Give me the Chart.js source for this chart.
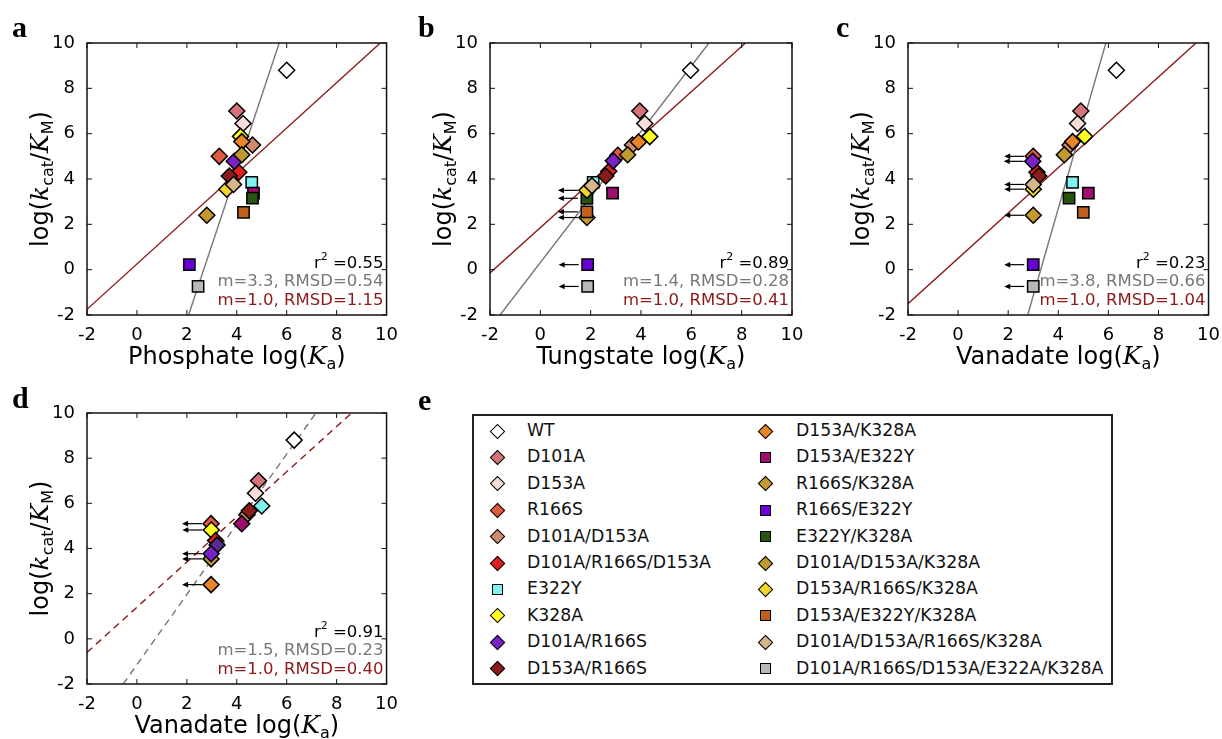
<!DOCTYPE html>
<html>
<head>
<meta charset="utf-8">
<script src="https://cdn.jsdelivr.net/npm/chart.js@4.4.0/dist/chart.umd.min.js"></script>
<style>
  body { margin: 0; background: #fff; width: 1222px; height: 739px; overflow: hidden; position: relative; font-family: "DejaVu Sans", sans-serif; }
  canvas { position: absolute; }
  .letter { position: absolute; font: bold 30px "Liberation Serif", serif; line-height: 30px; }
  #legend { position: absolute; left: 472px; top: 414px; width: 637px; height: 267px; border: 2px solid #222; }
  .mk { position: absolute; width: 11px; height: 11px; box-sizing: border-box; border: 1.5px solid #000; }
  .mk.D { transform: rotate(45deg); }
  .txt { position: absolute; font-size: 17.3px; line-height: 20px; white-space: nowrap; color: #111; }
</style>
</head>
<body>
<canvas id="pa" width="400" height="375" style="left:0;top:0"></canvas>
<canvas id="pb" width="410" height="375" style="left:400px;top:0"></canvas>
<canvas id="pc" width="412" height="375" style="left:810px;top:0"></canvas>
<canvas id="pd" width="400" height="369" style="left:0;top:370px"></canvas>
<div class="letter" style="left:12px;top:12px">a</div>
<div class="letter" style="left:418px;top:12px">b</div>
<div class="letter" style="left:836px;top:12px">c</div>
<div class="letter" style="left:12px;top:383px">d</div>
<div class="letter" style="left:418px;top:385px">e</div>
<div id="legend"></div>
<div id="legend-items"></div>

<script>
// ===== DATA =====
const mutants = ['WT', 'D101A', 'D153A', 'R166S', 'D101A/D153A', 'D101A/R166S/D153A', 'E322Y', 'K328A',
  'D101A/R166S', 'D153A/R166S', 'D153A/K328A', 'D153A/E322Y', 'R166S/K328A', 'R166S/E322Y', 'E322Y/K328A',
  'D101A/D153A/K328A', 'D153A/R166S/K328A', 'D153A/E322Y/K328A', 'D101A/D153A/R166S/K328A',
  'D101A/R166S/D153A/E322A/K328A'];

// log(kcat/KM), same for panels a-c
const logKcatKm = [8.8, 7.0, 6.45, 5.0, 5.5, 4.3, 3.85, 5.88, 4.78, 4.13, 5.65, 3.38, 2.4, 0.22, 3.16,
  5.07, 3.55, 2.53, 3.76, -0.74];

// log(Ka) for each anion
const phosphateKa = [6.0, 4.0, 4.25, 3.3, 4.63, 4.08, 4.6, 4.15, 3.9, 3.7, 4.2, 4.67, 2.8, 2.1, 4.63,
  4.2, 3.6, 4.27, 3.87, 2.45];
const tungstateKa = [5.97, 3.95, 4.15, 3.08, 3.66, 2.72, 2.1, 4.35, 2.9, 2.6, 3.9, 2.87, 1.85, 1.88, 1.85,
  3.47, 1.85, 1.85, 2.05, 1.88];
const vanadateKa = [6.32, 4.9, 4.77, 3.0, 4.47, 3.15, 4.57, 5.05, 2.98, 3.22, 4.57, 5.2, 3.0, 3.0, 4.43,
  4.24, 3.0, 5.0, 3.0, 3.0];
// slight y offsets where panels differ
const tungstateY = [8.8, 7.0, 6.45, 5.05, 5.5, 4.34, 3.85, 5.87, 4.8, 4.13, 5.63, 3.38, 2.3, 0.22, 3.15,
  5.07, 3.5, 2.55, 3.7, -0.74];

// upper-bound markers (arrows)
const tungstateLimit = [0,0,0,0,0,0,0,0,0,0,0,0,1,1,1,0,1,1,0,1];
const vanadateLimit  = [0,0,0,1,0,0,0,0,1,0,0,0,1,1,0,0,1,0,1,1];

// panel d: vanadate subset
const dKa   = [6.3, 4.87, 4.75, 5.0, 4.41, 4.5, 4.2, 2.97, 2.98, 3.15, 3.21, 2.97, 2.97, 2.97];
const dKcat = [8.8, 7.0, 6.45, 5.88, 5.5, 5.67, 5.1, 5.1, 4.82, 4.35, 4.15, 3.54, 3.77, 2.4];
const dLimit = [0,0,0,0,0,0,0,1,1,0,0,1,1,1];

// fit lines [x1, y1, x2, y2]
const fitFree = { a: [2.07, -2, 5.7, 10], b: [-1.6, -2, 6.7, 10], c: [2.78, -2, 5.9, 10], d: [-0.55, -2, 7.17, 10] };
const fitUnit = { a: [-2, -1.75, 9.75, 10], b: [-2, -0.15, 8.15, 10], c: [-2, -1.5, 9.5, 10], d: [-2, -0.6, 8.6, 10] };
const stats = {
  a: ['0.55', 'm=3.3, RMSD=0.54', 'm=1.0, RMSD=1.15'],
  b: ['0.89', 'm=1.4, RMSD=0.28', 'm=1.0, RMSD=0.41'],
  c: ['0.23', 'm=3.8, RMSD=0.66', 'm=1.0, RMSD=1.04'],
  d: ['0.91', 'm=1.5, RMSD=0.23', 'm=1.0, RMSD=0.40'],
};

// ===== STYLE =====
const colors = ['#ffffff', '#d5737a', '#f7ddd8', '#e05a40', '#d08a6e', '#de2020', '#80f2f2', '#ffff22',
  '#7a22c8', '#8b1c1c', '#e8842a', '#9e0e6e', '#c49a30', '#6a00d4', '#275410', '#bf9a2e', '#f2d62c',
  '#c0601e', '#d6b68a', '#b8b8b8'];
const shapes = mutants.map(m => m.includes('E322') ? 'S' : 'D');
const dColors = ['#ffffff', '#d5737a', '#f7ddd8', '#7ff0f0', '#d08a6e', '#8b1c1c', '#9e0e6e', '#e05a40',
  '#ffff22', '#de2020', '#5a2a95', '#c49a30', '#7a22c8', '#e8842a'];
const GRAY = '#777777', RED = '#8b1a1a';
const SANS = '"DejaVu Sans"', SERIF = '"DejaVu Serif"';
const STAT = '16.5px ' + SANS;

function rich(ctx, parts, x, y, align) {
  let w = 0;
  parts.forEach(p => { ctx.font = p[1]; w += ctx.measureText(p[0]).width; });
  let cx = align === 'right' ? x - w : align === 'center' ? x - w / 2 : x;
  ctx.textAlign = 'left';
  ctx.textBaseline = 'alphabetic';
  parts.forEach(p => {
    ctx.font = p[1];
    ctx.fillText(p[0], cx, y + (p[2] || 0));
    cx += ctx.measureText(p[0]).width;
  });
}

function makePanel(id, cfg) {
  const pts = cfg.x.map((x, i) => ({ x, y: cfg.y[i] }));
  const line = (f, color) => ({
    data: [{ x: f[0], y: f[1] }, { x: f[2], y: f[3] }],
    showLine: true, pointRadius: 0, borderColor: color, borderWidth: 1.4,
    borderDash: cfg.dashed ? [7, 5] : [], order: 2,
  });

  const deco = {
    id: 'deco',
    afterDraw(chart) {
      const { ctx, chartArea: a, scales: { x, y } } = chart;
      ctx.save();
      // arrows for upper bounds
      ctx.strokeStyle = '#000'; ctx.fillStyle = '#000'; ctx.lineWidth = 1.2;
      cfg.limit.forEach((l, i) => {
        if (!l) return;
        const px = x.getPixelForValue(cfg.x[i]), py = y.getPixelForValue(cfg.y[i]);
        ctx.beginPath(); ctx.moveTo(px - 9, py); ctx.lineTo(px - 25, py); ctx.stroke();
        ctx.beginPath(); ctx.moveTo(px - 29, py); ctx.lineTo(px - 23, py - 2.8); ctx.lineTo(px - 23, py + 2.8); ctx.closePath(); ctx.fill();
      });
      // frame + inward ticks
      ctx.strokeStyle = '#111'; ctx.lineWidth = 1.5;
      ctx.strokeRect(a.left, a.top, a.right - a.left, a.bottom - a.top);
      ctx.lineWidth = 1;
      x.ticks.forEach(t => {
        const px = x.getPixelForValue(t.value);
        ctx.beginPath();
        ctx.moveTo(px, a.bottom); ctx.lineTo(px, a.bottom - 5);
        ctx.moveTo(px, a.top); ctx.lineTo(px, a.top + 5);
        ctx.stroke();
      });
      y.ticks.forEach(t => {
        const py = y.getPixelForValue(t.value);
        ctx.beginPath();
        ctx.moveTo(a.left, py); ctx.lineTo(a.left + 5, py);
        ctx.moveTo(a.right, py); ctx.lineTo(a.right - 5, py);
        ctx.stroke();
      });
      // axis labels
      ctx.fillStyle = '#000';
      rich(ctx, [[cfg.name + ' log(', '24px ' + SANS], ['K', 'italic 25px ' + SERIF], ['a', '16px ' + SANS, 5],
        [')', '24px ' + SANS]], (a.left + a.right) / 2, a.bottom + 49, 'center');
      ctx.save();
      ctx.translate(a.left - 39, (a.top + a.bottom) / 2);
      ctx.rotate(-Math.PI / 2);
      rich(ctx, [['log(', '24px ' + SANS], ['k', 'italic 25px ' + SERIF], ['cat', '16px ' + SANS, 5],
        ['/', '24px ' + SANS], ['K', 'italic 25px ' + SERIF], ['M', '16px ' + SANS, 5], [')', '24px ' + SANS]], 0, 0, 'center');
      ctx.restore();
      // statistics
      const s = cfg.stats;
      rich(ctx, [['r', STAT], ['2', '11px ' + SANS, -8], [' =' + s[0], STAT]], a.right - 3, a.bottom - 47, 'right');
      ctx.fillStyle = GRAY;
      rich(ctx, [[s[1], STAT]], a.right - 3, a.bottom - 29, 'right');
      ctx.fillStyle = RED;
      rich(ctx, [[s[2], STAT]], a.right - 3, a.bottom - 10, 'right');
      ctx.restore();
    }
  };

  const tickFont = { size: 18, family: 'DejaVu Sans' };
  return new Chart(document.getElementById(id), {
    type: 'scatter',
    data: {
      datasets: [
        {
          data: pts,
          pointStyle: cfg.shapes.map(s => s === 'S' ? 'rect' : 'rectRot'),
          pointRadius: 8,
          backgroundColor: cfg.colors,
          borderColor: '#000',
          borderWidth: 1.5,
          order: 1,
        },
        line(cfg.free, GRAY),
        line(cfg.unit, RED),
      ]
    },
    options: {
      responsive: false,
      animation: false,
      layout: { padding: { top: cfg.padTop, right: cfg.padRight, left: 0, bottom: 0 } },
      plugins: { legend: { display: false }, tooltip: { enabled: false } },
      scales: {
        x: {
          type: 'linear', min: -2, max: 10,
          ticks: { stepSize: 2, font: tickFont, color: '#000', padding: 2, maxRotation: 0 },
          grid: { display: false }, border: { display: false },
          afterFit: sc => { sc.height = cfg.xh; },
        },
        y: {
          type: 'linear', min: -2, max: 10,
          ticks: { stepSize: 2, font: tickFont, color: '#000', padding: 4 },
          grid: { display: false }, border: { display: false },
          afterFit: sc => { sc.width = cfg.yw; },
        }
      }
    },
    plugins: [deco]
  });
}

const none = mutants.map(() => 0);
makePanel('pa', { name: 'Phosphate', x: phosphateKa, y: logKcatKm, limit: none, colors, shapes,
  free: fitFree.a, unit: fitUnit.a, stats: stats.a, yw: 87, xh: 60, padTop: 43, padRight: 12 });
makePanel('pb', { name: 'Tungstate', x: tungstateKa, y: tungstateY, limit: tungstateLimit, colors, shapes,
  free: fitFree.b, unit: fitUnit.b, stats: stats.b, yw: 90, xh: 60, padTop: 43, padRight: 18 });
makePanel('pc', { name: 'Vanadate', x: vanadateKa, y: logKcatKm, limit: vanadateLimit, colors, shapes,
  free: fitFree.c, unit: fitUnit.c, stats: stats.c, yw: 98, xh: 60, padTop: 43, padRight: 12 });
makePanel('pd', { name: 'Vanadate', x: dKa, y: dKcat, limit: dLimit, colors: dColors, shapes: dKa.map(() => 'D'),
  free: fitFree.d, unit: fitUnit.d, stats: stats.d, dashed: true, yw: 87, xh: 55, padTop: 43, padRight: 12 });

// ===== LEGEND =====
const holder = document.getElementById('legend-items');
mutants.forEach((m, i) => {
  const col = i < 10 ? 0 : 1;
  const row = i % 10;
  const cy = 431 + row * 26.4;
  const mx = col ? 765 : 497;
  const tx = col ? 796 : 527;
  const mk = document.createElement('div');
  mk.className = 'mk ' + shapes[i];
  mk.style.left = (mx - 5.5) + 'px';
  mk.style.top = (cy - 5.5) + 'px';
  mk.style.background = colors[i];
  holder.appendChild(mk);
  const t = document.createElement('div');
  t.className = 'txt';
  t.style.left = tx + 'px';
  t.style.top = (cy - 11) + 'px';
  t.textContent = m;
  holder.appendChild(t);
});
</script>
</body>
</html>
